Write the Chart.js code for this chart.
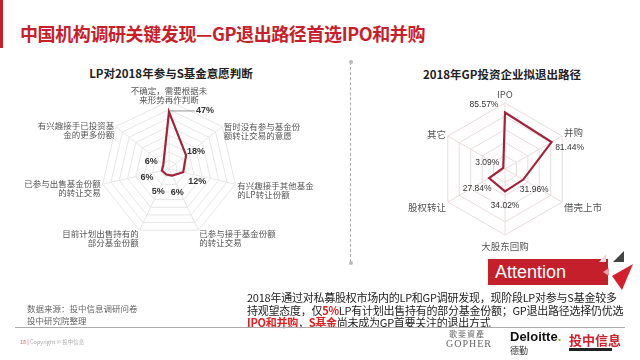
<!DOCTYPE html>
<html>
<head>
<meta charset="utf-8">
<script src="https://cdn.jsdelivr.net/npm/chart.js@4/dist/chart.umd.min.js"></script>
<style>
  body { margin: 0; background: #fff; font-family: "Noto Sans CJK SC", "Noto Sans", sans-serif; }
  #page { position: relative; width: 640px; height: 360px; overflow: hidden; background: #fff; }
  .abs { position: absolute; white-space: nowrap; }
  #bar { left: 0; top: 0; width: 3px; height: 48px; background: #c8202a; }
  #title { left: 20px; top: 20px; font-size: 18px; font-weight: bold; color: #c8202a; letter-spacing: -0.4px; }
  .ctitle { font-size: 11.5px; font-weight: bold; color: #222; transform: translateX(-50%); }
  #divider { left: 350px; top: 62px; height: 200px; border-left: 1px dashed #aaa; }
  .dot { width: 4px; height: 4px; border-radius: 2px; background: #bbb; }
  #note { left: 247px; top: 291px; font-size: 11px; line-height: 12.5px; color: #222; letter-spacing: -0.25px; }
  #note b { color: #e02020; }
  #source { left: 27px; top: 302px; font-size: 8.5px; line-height: 12px; color: #666; }
  #rule { left: 15px; top: 327px; width: 610px; height: 1px; background: #aaa; }
  #footer { left: 20px; top: 338px; font-size: 5.5px; color: #aaa; }
  #attn { left: 488px; top: 259px; width: 120px; height: 26px; background: #c41f2a; color: #fff;
          font-family: "Liberation Sans", Arial, sans-serif; font-size: 18px; line-height: 26px; padding-left: 7px; box-sizing: border-box; }
  canvas { position: absolute; }
</style>
</head>
<body>
<div id="page">
  <div class="abs" id="bar"></div>
  <div class="abs" id="title">中国机构调研关键发现—GP退出路径首选IPO和并购</div>

  <div class="abs ctitle" style="left:171px; top:65px;">LP对2018年参与S基金意愿判断</div>
  <div class="abs ctitle" style="left:502px; top:66px;">2018年GP投资企业拟退出路径</div>

  <div class="abs" id="divider"></div>
  <div class="abs dot" style="left:349px; top:60px;"></div>
  <div class="abs dot" style="left:349px; top:261px;"></div>

  <canvas id="lpChart" width="310" height="200" style="left:19px; top:60px;"></canvas>
  <canvas id="gpChart" width="290" height="200" style="left:345px; top:60px;"></canvas>

  <div class="abs" id="attn">Attention</div>
  <svg class="abs" style="left:0; top:0;" width="640" height="360">
    <polygon points="599,262 606,254 606,262" fill="#ddd"/>
    <polygon points="603,272 609,268 609,276" fill="#e9a0a5"/>
    <polygon points="613,262 624,251 624,262" fill="#444"/>
    <polygon points="633,264 612,276 622,290" fill="#d3202c"/>
  </svg>

  <div class="abs" id="note">2018年通过对私募股权市场内的LP和GP调研发现，现阶段LP对参与S基金较多<br>持观望态度，仅<b>5%</b>LP有计划出售持有的部分基金份额；GP退出路径选择仍优选<br><b>IPO和并购</b>，<b>S基金</b>尚未成为GP首要关注的退出方式</div>

  <div class="abs" id="source">数据来源：投中信息调研问卷<br>投中研究院整理</div>
  <div class="abs" id="rule"></div>
  <div class="abs" id="footer"><span style="color:#d66">18</span> <span style="color:#c8202a">|</span> Copyright © 投中信息</div>

  <div class="abs" style="left:449px; top:328px; font-size:8px; color:#666; letter-spacing:1px;">歌斐資產</div>
  <div class="abs" style="left:446px; top:338px; font-family:'Liberation Serif',serif; font-size:10px; color:#666; letter-spacing:1px;">GOPHER</div>
  <div class="abs" style="left:510px; top:329px; font-family:'Liberation Sans',Arial,sans-serif; font-size:13px; font-weight:bold; color:#111;">Deloitte<span style="color:#86bc25">.</span></div>
  <div class="abs" style="left:510px; top:344px; font-size:9px; color:#333;">德勤</div>
  <div class="abs" style="left:569px; top:330px; font-size:13px; font-weight:bold; color:#d0202a;">投中信息</div>
  <div class="abs" style="left:569px; top:348px; width:43px; height:3px; background:#222;"></div>
</div>

<script>
// left radar: LP willingness
const lpLabels = [
    ['不确定，需要根据未', '来形势再作判断'],
    ['暂时没有参与基金份', '额转让交易的意愿'],
    ['有兴趣接手其他基金', '的LP转让份额'],
    ['已参与接手基金份额', '的转让交易'],
    ['目前计划出售持有的', '部分基金份额'],
    ['已参与出售基金份额', '的转让交易'],
    ['有兴趣接手已投资基', '金的更多份额']
];
const lpValues = [47, 18, 12, 6, 5, 6, 6];

// right radar: GP exit routes
const gpLabels = ['IPO', '并购', '借壳上市', '大股东回购', '股权转让', '其它'];
const gpValues = [85.57, 81.44, 31.96, 34.02, 27.84, 3.09];

// draws category labels and value labels around a radar
const radarText = {
    id: 'radarText',
    afterDatasetsDraw(chart, args, opts) {
        const ctx = chart.ctx;
        const scale = chart.scales.r;
        const data = chart.data.datasets[0].data;
        ctx.save();

        ctx.font = opts.labelFont;
        ctx.fillStyle = opts.labelColor;
        ctx.textBaseline = 'top';
        chart.data.labels.forEach((lab, i) => {
            const lines = Array.isArray(lab) ? lab : [lab];
            const p = scale.getPointPosition(i, scale.drawingArea + opts.labelGap);
            const s = Math.sin(scale.getIndexAngle(i));
            ctx.textAlign = Math.abs(s) < 0.05 ? 'center' : (s > 0 ? 'left' : 'right');
            lines.forEach((line, k) => {
                ctx.fillText(line, p.x, p.y + opts.labelDy[i] + k * opts.lineHeight);
            });
        });

        ctx.font = opts.valueFont;
        ctx.fillStyle = opts.valueColor;
        ctx.textAlign = 'center';
        ctx.textBaseline = 'middle';
        data.forEach((v, i) => {
            const p = scale.getPointPositionForValue(i, v);
            const off = opts.valueOffsets[i];
            if (opts.leader === i) {
                ctx.strokeStyle = '#777';
                ctx.lineWidth = 0.8;
                ctx.beginPath();
                ctx.moveTo(p.x + 1, p.y - 1);
                ctx.lineTo(p.x + off[0] - 10, p.y - 1);
                ctx.stroke();
            }
            ctx.fillText(v + '%', p.x + off[0], p.y + off[1]);
        });
        ctx.restore();
    }
};

function radarOptions(padding, max, step, gridColor, text) {
    return {
        responsive: false,
        animation: false,
        layout: { padding: padding },
        elements: {
            line: { borderWidth: 2.2, tension: 0 },
            point: { radius: 0 }
        },
        plugins: {
            legend: { display: false },
            tooltip: { enabled: false },
            radarText: text
        },
        scales: {
            r: {
                min: 0,
                max: max,
                ticks: { display: false, stepSize: step },
                pointLabels: { display: false },
                grid: { color: gridColor, lineWidth: 1 },
                angleLines: { color: gridColor, lineWidth: 1 }
            }
        }
    };
}

new Chart(document.getElementById('lpChart'), {
    type: 'radar',
    data: {
        labels: lpLabels,
        datasets: [{
            data: lpValues,
            borderColor: '#a3233a',
            backgroundColor: 'rgba(255,255,255,0)',
            fill: false
        }]
    },
    options: radarOptions({ left: 82, right: 92, top: 41, bottom: 23 }, 56, 7, '#e6e6e6', {
        labelFont: '8.5px "Noto Sans CJK SC"',
        labelColor: '#555',
        labelGap: 2,
        lineHeight: 9,
        labelDy: [-12, -3, -3, -3, -3, -5, -4],
        valueFont: 'bold 9px "Liberation Sans", Arial',
        valueColor: '#333',
        valueOffsets: [[36, -1], [10, -4], [14, 9], [5, 17], [-8, 17], [-15, 7], [-12, -3]],
        leader: 0
    }),
    plugins: [radarText]
});

new Chart(document.getElementById('gpChart'), {
    type: 'radar',
    data: {
        labels: gpLabels,
        datasets: [{
            data: gpValues,
            borderColor: '#a3233a',
            backgroundColor: 'rgba(255,255,255,0)',
            fill: false
        }]
    },
    options: radarOptions({ left: 94, right: 64, top: 43, bottom: 25 }, 100, 20, '#e8dcdc', {
        labelFont: '9.5px "Noto Sans CJK SC"',
        labelColor: '#555',
        labelGap: 2,
        lineHeight: 10,
        labelDy: [-11, -7, 0, 5, 0, -5],
        valueFont: '8.5px "Liberation Sans", Arial',
        valueColor: '#333',
        valueOffsets: [[-21, -8], [18, 6], [11, 10], [0, 14], [-12, 10], [-16, -5]],
        leader: -1
    }),
    plugins: [radarText]
});
</script>
</body>
</html>
